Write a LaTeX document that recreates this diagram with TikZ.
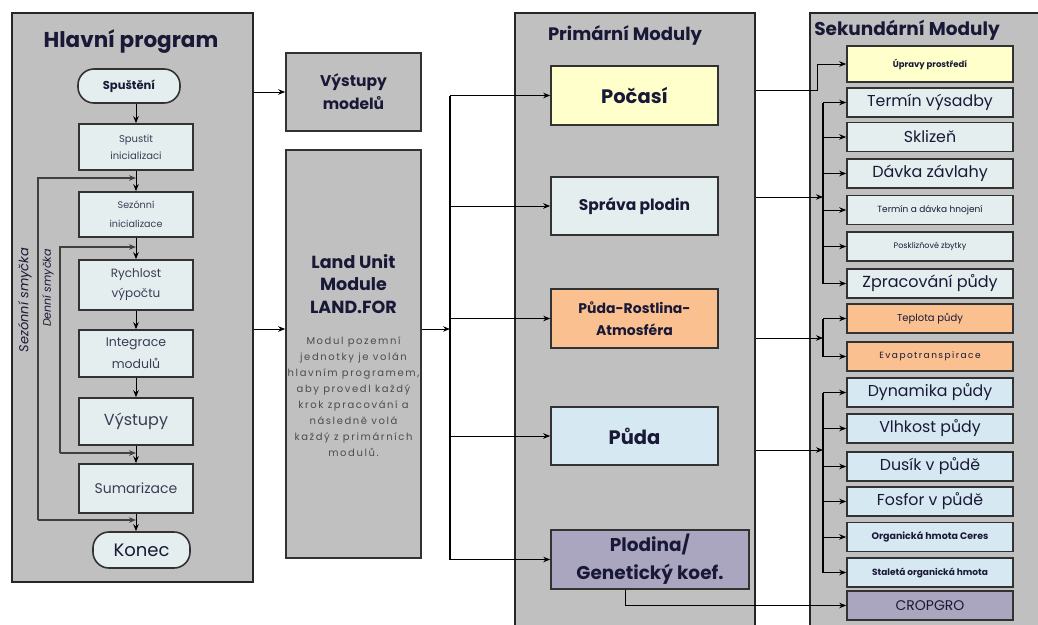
\documentclass[tikz,border=0pt]{standalone}
\usepackage{fontspec}
\setmainfont{Poppins}
\newfontfamily\spacedfont[LetterSpace=16]{Poppins}
\usetikzlibrary{arrows.meta}

\definecolor{panelgray}{RGB}{192,192,192}
\definecolor{boxlight}{RGB}{228,238,238}
\definecolor{boxyellow}{RGB}{255,255,204}
\definecolor{boxorange}{RGB}{250,192,143}
\definecolor{boxblue}{RGB}{214,232,241}
\definecolor{boxpurple}{RGB}{170,166,192}
\definecolor{boxline}{RGB}{50,50,50}
\definecolor{navy}{RGB}{25,25,55}
\definecolor{slate}{RGB}{60,60,85}

\newcommand{\fz}[2]{\fontsize{#1}{#2}\selectfont}

\tikzset{
    panel/.style = {draw = black!85, line width = 1.2pt, fill = panelgray, inner sep = 0pt},
    box/.style = {draw = boxline, line width = 1.6pt, fill = boxlight, align = center, inner sep = 1pt, text = navy},
    flowbox/.style = {box, minimum width = 114pt, text = slate},
    term/.style = {box, rounded corners = 16pt},
    secbox/.style = {box, minimum width = 166pt, minimum height = 29pt},
    conn/.style = {line width = 1pt, -{Stealth[length = 7pt, width = 5.5pt]}},
    bus/.style = {line width = 1.4pt},
    loopline/.style = {line width = 1.3pt, draw = black!75, -{Stealth[length = 7pt, width = 5.5pt]}},
}

\begin{document}
\begin{tikzpicture}[x = 1pt, y = -1pt]
    \useasboundingbox (0, 0) rectangle (1038, 624);
    \clip (0, 0) rectangle (1038, 624);

    % panels
    \node [panel, minimum width = 241pt, minimum height = 569pt] (main) at (132.5, 297.5) {};
    \node [panel, minimum width = 240pt, minimum height = 627pt] (prim) at (635, 326.5) {};
    \node [panel, minimum width = 240pt, minimum height = 627pt] (sec) at (930, 326.5) {};

    \node [text = navy, font = \fz{21.5}{24}\bfseries] (t1) at (131, 42) {Hlavní program};
    \node [text = navy, font = \fz{18}{20}\bfseries] (t2) at (625, 35) {Primární Moduly};
    \node [text = navy, font = \fz{18.5}{20}\bfseries] (t3) at (907, 30) {Sekundární Moduly};

    % hlavni program
    \node [term, minimum width = 102pt, minimum height = 34pt, font = \fz{11.5}{13}\bfseries] (spust) at (129, 86) {Spuštění};
    \node [flowbox, minimum height = 46pt, font = \fz{10}{17}] (init) at (136, 147) {Spustit\\inicializaci};
    \node [flowbox, minimum height = 45pt, font = \fz{9.6}{19}] (sezon) at (136, 214.5) {Sezónní\\inicializace};
    \node [flowbox, minimum height = 50pt, font = \fz{12}{20}] (rychl) at (136, 285) {Rychlost\\výpočtu};
    \node [flowbox, minimum height = 47pt, font = \fz{12.5}{22}] (integ) at (136, 353.5) {Integrace\\modulů};
    \node [flowbox, minimum height = 47pt, font = \fz{16}{18}] (vyst) at (136, 421.5) {Výstupy};
    \node [flowbox, minimum height = 49pt, font = \fz{14}{16}] (sumar) at (136, 488.5) {Sumarizace};
    \node [term, minimum width = 97pt, minimum height = 36pt, font = \fz{18}{20}] (konec) at (141.5, 550) {Konec};

    \draw [conn] (spust.south -| init.north) -- (init.north);
    \draw [conn] (init.south) -- (sezon.north);
    \draw [conn] (sezon.south) -- (rychl.north);
    \draw [conn] (rychl.south) -- (integ.north);
    \draw [conn] (integ.south) -- (vyst.north);
    \draw [conn] (vyst.south) -- (sumar.north);
    \draw [conn] (sumar.south) -- (sumar.south |- konec.north);

    % smycky
    \coordinate (s1) at (38, 520);
    \coordinate (s2) at (38, 178);
    \coordinate (d1) at (60, 453);
    \coordinate (d2) at (60, 247);
    \draw [loopline] (s1) -- (s1 -| sumar.south);
    \draw [loopline] (s1) |- (s2 -| init.south);
    \draw [loopline] (d1) -- (d1 -| vyst.south);
    \draw [loopline] (d1) |- (d2 -| sezon.south);
    \node [rotate = 90, text = navy, font = \fz{13}{15}\itshape] (l1) at (25, 300) {Sezónní smyčka};
    \node [rotate = 90, text = navy, font = \fz{11}{13}\itshape] (l2) at (48, 288) {Denní smyčka};

    % vystupy a land unit
    \node [box, fill = panelgray, minimum width = 135pt, minimum height = 78pt, font = \fz{15.5}{23}\bfseries] (vystm) at (353.5, 92) {Výstupy\\modelů};
    \node [box, fill = panelgray, minimum width = 135pt, minimum height = 408pt] (land) at (353.5, 354) {};
    \node [align = center, text = navy, font = \fz{17.5}{22.5}\bfseries] (landt) at (353.5, 284) {Land Unit\\Module\\LAND.FOR};
    \node [align = center, text = black!70, font = \spacedfont\fz{10}{16}] (landd) at (353.5, 397) {Modul pozemní\\jednotky je volán\\hlavním programem,\\aby provedl každý\\krok zpracování a\\následně volá\\každý z primárních\\modulů.};

    \coordinate (split) at (450, 329);
    \draw [conn] (main.east |- vystm.west) -- (vystm.west);
    \draw [conn] (main.east |- split) -- (land.west |- split);
    \draw [conn] (land.east |- split) -- (split);

    % primarni moduly
    \node [box, fill = boxyellow, minimum width = 167pt, minimum height = 59pt, font = \fz{19.5}{22}\bfseries] (pocasi) at (634.5, 95.5) {Počasí};
    \node [box, minimum width = 167pt, minimum height = 58pt, font = \fz{15.5}{18}\bfseries] (sprava) at (634.5, 206) {Správa plodin};
    \node [box, fill = boxorange, minimum width = 167pt, minimum height = 59pt, font = \fz{14}{22}\bfseries] (pra) at (634.5, 318.5) {Půda-Rostlina-\\Atmosféra};
    \node [box, fill = boxblue, minimum width = 167pt, minimum height = 58pt, font = \fz{19.5}{22}\bfseries] (puda) at (634.5, 436) {Půda};
    \node [box, fill = boxpurple, minimum width = 198pt, minimum height = 59pt, font = \fz{18.5}{28}\bfseries] (plod) at (650, 559.5) {Plodina/\\Genetický koef.};

    \draw [bus] (split |- pocasi) -- (split |- plod);
    \foreach \pm in {pocasi, sprava, pra, puda, plod}
        \draw [conn] (split |- \pm) -- (\pm.west);

    % sekundarni moduly
    \node [secbox, fill = boxyellow, minimum height = 36pt, font = \fz{8.5}{10}\bfseries] (upr) at (930, 64) {Úpravy prostředí};
    \node [secbox, font = \fz{15.8}{18}] (vys) at (930, 102.5) {Termín výsadby};
    \node [secbox, font = \fz{15.8}{18}] (skl) at (930, 137) {Sklizeň};
    \node [secbox, font = \fz{16}{18}] (dav) at (930, 173.5) {Dávka závlahy};
    \node [secbox, font = \fz{9}{10}] (hno) at (930, 210) {Termín a dávka hnojení};
    \node [secbox, font = \fz{8}{10}] (pos) at (930, 246.5) {Posklizňové zbytky};
    \node [secbox, font = \fz{16}{18}] (zpr) at (930, 283.5) {Zpracování půdy};
    \node [secbox, fill = boxorange, font = \fz{10}{12}] (tep) at (930, 318.5) {Teplota půdy};
    \node [secbox, fill = boxorange, font = \spacedfont\fz{9}{11}] (eva) at (930, 356.5) {Evapotranspirace};
    \node [secbox, fill = boxblue, font = \fz{15.8}{18}] (dyn) at (930, 392.5) {Dynamika půdy};
    \node [secbox, fill = boxblue, font = \fz{15.8}{18}] (vlh) at (930, 428.5) {Vlhkost půdy};
    \node [secbox, fill = boxblue, font = \fz{15.8}{18}] (dus) at (930, 466.5) {Dusík v půdě};
    \node [secbox, fill = boxblue, font = \fz{15.8}{18}] (fos) at (930, 501.5) {Fosfor v půdě};
    \node [secbox, fill = boxblue, font = \fz{9.5}{11}\bfseries] (org) at (930, 537) {Organická hmota Ceres};
    \node [secbox, fill = boxblue, font = \fz{9}{11}\bfseries] (sto) at (930, 572.5) {Staletá organická hmota};
    \node [secbox, fill = boxpurple, font = \fz{14}{16}] (crop) at (930, 605.5) {CROPGRO};

    % propojeni
    \coordinate (b1) at (817, 90);
    \coordinate (b2) at (823, 197);
    \coordinate (b3) at (823, 338);
    \coordinate (b4) at (823, 450);

    \draw [conn] (prim.east |- b1) -- (b1) |- (upr.west);

    \draw [conn] (prim.east |- b2) -- (b2);
    \draw [bus] (b2 |- vys) -- (b2 |- zpr);
    \foreach \sm in {vys, skl, dav, hno, pos, zpr}
        \draw [conn] (b2 |- \sm) -- (\sm.west);

    \draw [conn] (prim.east |- b3) -- (b3);
    \draw [bus] (b3 |- tep) -- (b3 |- eva);
    \foreach \sm in {tep, eva}
        \draw [conn] (b3 |- \sm) -- (\sm.west);

    \draw [conn] (prim.east |- b4) -- (b4);
    \draw [bus] (b4 |- dyn) -- (b4 |- sto);
    \foreach \sm in {dyn, vlh, dus, fos, org, sto}
        \draw [conn] (b4 |- \sm) -- (\sm.west);

    \draw [conn] ([xshift = -25pt]plod.south) |- (crop.west);
\end{tikzpicture}
\end{document}
